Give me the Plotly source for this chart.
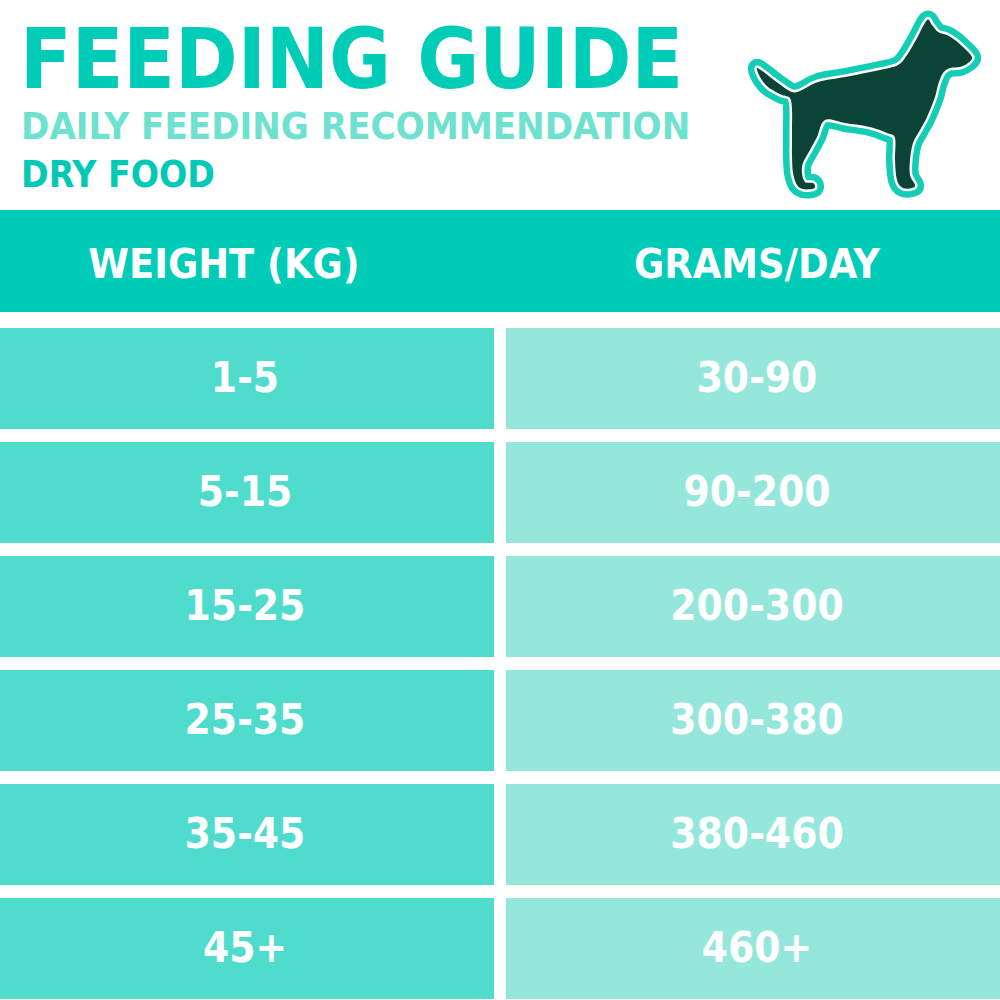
import plotly.graph_objects as go

# Table content
headers = ["WEIGHT (KG)", "GRAMS/DAY"]
weights = ["1-5", "5-15", "15-25", "25-35", "35-45", "45+"]
grams = ["30-90", "90-200", "200-300", "300-380", "380-460", "460+"]

title = "FEEDING GUIDE"
subtitle = "DAILY FEEDING RECOMMENDATION"
food_type = "DRY FOOD"

FONT = "DejaVu Sans Condensed"
TEAL = "#00CCB8"
LEFT_CELL = "#4FDCCD"
RIGHT_CELL = "#96E7DB"
DOG_DARK = "#0B4436"
DOG_EDGE = "#14CDB5"

# geometry (pixel space, y down)
HEADER_TOP, HEADER_BOTTOM = 210, 312
ROW_TOP0, ROW_H, ROW_STEP = 328, 101, 114
COL_SPLIT_L, COL_SPLIT_R = 494, 506
HEADER_X = [224, 757]
COL_CENTERS = [245, 757]

# dog silhouette outline (pixel coords, traced by hand)
dog_outline = [
    (757, 68), (765, 73), (778, 83), (792, 92), (802, 90), (818, 82),
    (845, 77), (865, 73), (880, 70), (898, 65), (907, 55), (917, 38),
    (927, 20), (932, 25), (938, 32), (947, 35), (955, 40), (963, 47),
    (972, 57), (968, 63), (960, 67), (950, 68), (943, 73), (938, 85),
    (935, 97), (927, 117), (920, 130), (913, 143), (910, 160), (910, 175),
    (915, 185), (912, 188), (903, 188), (897, 180), (895, 160), (895, 138),
    (887, 133), (870, 127), (845, 123), (825, 120), (817, 137), (810, 150),
    (803, 163), (802, 173), (805, 182), (813, 183), (815, 187), (812, 189),
    (803, 189), (797, 185), (793, 173), (792, 157), (792, 140), (792, 127),
    (792, 110), (790, 98), (782, 95), (768, 87), (760, 77),
]


def svg_path(points):
    # closed Catmull-Rom spline -> cubic beziers, keeps the outline soft
    n = len(points)
    parts = ["M {},{}".format(*points[0])]
    for i in range(n):
        p0 = points[(i - 1) % n]
        p1 = points[i]
        p2 = points[(i + 1) % n]
        p3 = points[(i + 2) % n]
        c1 = (p1[0] + (p2[0] - p0[0]) / 6, p1[1] + (p2[1] - p0[1]) / 6)
        c2 = (p2[0] - (p3[0] - p1[0]) / 6, p2[1] - (p3[1] - p1[1]) / 6)
        parts.append("C {:.1f},{:.1f} {:.1f},{:.1f} {},{}".format(
            c1[0], c1[1], c2[0], c2[1], p2[0], p2[1]))
    return " ".join(parts) + " Z"


fig = go.Figure()
shapes = []

# header band
shapes.append(dict(type="rect", xref="x", yref="y", x0=0, x1=1000,
                   y0=HEADER_TOP, y1=HEADER_BOTTOM,
                   fillcolor=TEAL, line=dict(width=0), layer="below"))

# body cells
row_centers = []
for i in range(len(weights)):
    top = ROW_TOP0 + i * ROW_STEP
    bottom = min(top + ROW_H, 1000)
    row_centers.append(top + ROW_H / 2 + 3)
    shapes.append(dict(type="rect", xref="x", yref="y", x0=0, x1=COL_SPLIT_L,
                       y0=top, y1=bottom, fillcolor=LEFT_CELL,
                       line=dict(width=0), layer="below"))
    shapes.append(dict(type="rect", xref="x", yref="y", x0=COL_SPLIT_R, x1=1000,
                       y0=top, y1=bottom, fillcolor=RIGHT_CELL,
                       line=dict(width=0), layer="below"))

# dog: teal halo, white rim, dark body
dog = svg_path(dog_outline)
shapes.append(dict(type="path", path=dog, xref="x", yref="y",
                   fillcolor=DOG_EDGE, line=dict(color=DOG_EDGE, width=18)))
shapes.append(dict(type="path", path=dog, xref="x", yref="y",
                   fillcolor="white", line=dict(color="white", width=5)))
shapes.append(dict(type="path", path=dog, xref="x", yref="y",
                   fillcolor=DOG_DARK, line=dict(width=0)))

# header labels
fig.add_trace(go.Scatter(
    x=HEADER_X, y=[(HEADER_TOP + HEADER_BOTTOM) / 2 + 7] * 2,
    mode="text", text=headers, textposition="middle center",
    textfont=dict(family=FONT, size=41, color="white", weight="bold"),
    hoverinfo="skip", showlegend=False,
))

# cell labels
fig.add_trace(go.Scatter(
    x=[COL_CENTERS[0]] * len(weights), y=row_centers,
    mode="text", text=weights, textposition="middle center",
    textfont=dict(family=FONT, size=42, color="white", weight="bold"),
    hoverinfo="skip", showlegend=False,
))
fig.add_trace(go.Scatter(
    x=[COL_CENTERS[1]] * len(grams), y=row_centers,
    mode="text", text=grams, textposition="middle center",
    textfont=dict(family=FONT, size=42, color="white", weight="bold"),
    hoverinfo="skip", showlegend=False,
))

annotations = [
    dict(x=18, y=59, xref="x", yref="y", text=title, showarrow=False,
         xanchor="left", yanchor="middle",
         font=dict(family=FONT, size=84, color="#00CDB7", weight="bold")),
    dict(x=19, y=126, xref="x", yref="y", text=subtitle, showarrow=False,
         xanchor="left", yanchor="middle",
         font=dict(family=FONT, size=38, color="#6EE2CF", weight="bold")),
    dict(x=19, y=174, xref="x", yref="y", text=food_type, showarrow=False,
         xanchor="left", yanchor="middle",
         font=dict(family=FONT, size=37, color="#00C9B5", weight="bold")),
]

fig.update_layout(
    width=1000, height=1000,
    margin=dict(l=0, r=0, t=0, b=0),
    paper_bgcolor="white", plot_bgcolor="white",
    xaxis=dict(range=[0, 1000], visible=False, fixedrange=True),
    yaxis=dict(range=[1000, 0], visible=False, fixedrange=True),
    shapes=shapes,
    annotations=annotations,
)

fig.write_html("out.html", config={"displayModeBar": False},
               post_script="document.body.style.margin = '0px';")
